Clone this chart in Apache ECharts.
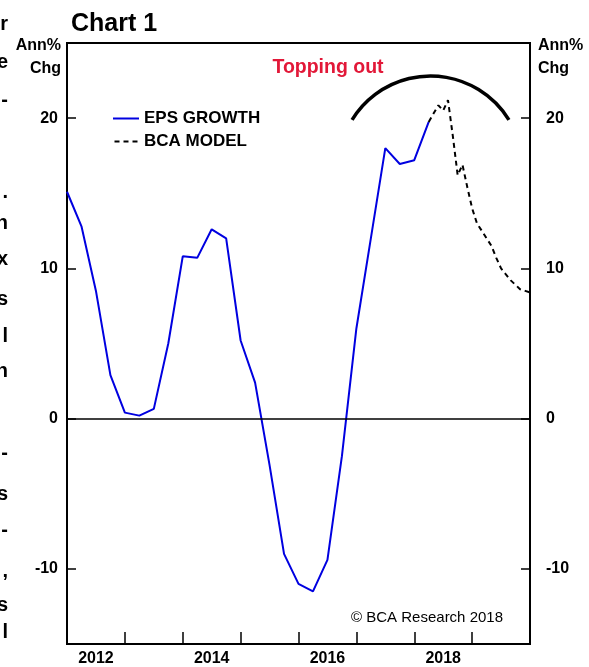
<!DOCTYPE html>
<html>
<head>
<meta charset="utf-8">
<script src="https://cdn.jsdelivr.net/npm/echarts@6/dist/echarts.min.js"></script>
<style>
html,body{margin:0;padding:0;background:#fff;}
#chart{width:589px;height:667px;}
</style>
</head>
<body>
<div id="chart"></div>
<script>
// EPS growth, quarterly (Ann% Chg)
const epsYears = [2012.00, 2012.25, 2012.50, 2012.75, 2013.00, 2013.25, 2013.50, 2013.75,
  2014.00, 2014.25, 2014.50, 2014.75, 2015.00, 2015.25, 2015.50, 2015.75,
  2016.00, 2016.25, 2016.50, 2016.75, 2017.00, 2017.25, 2017.50, 2017.75,
  2018.00, 2018.25];
const epsValues = [15.1, 12.8, 8.5, 2.9, 0.4, 0.2, 0.65, 5.0,
  10.8, 10.7, 12.6, 12.0, 5.2, 2.4, -3.1, -9.0,
  -11.0, -11.5, -9.4, -2.5, 6.0, 12.0, 18.0, 16.95,
  17.2, 19.75];
// BCA model, monthly
const modelYears = [2018.250, 2018.333, 2018.417, 2018.500, 2018.583, 2018.667, 2018.750, 2018.833,
  2018.917, 2019.000, 2019.083, 2019.167, 2019.250, 2019.333, 2019.417, 2019.500,
  2019.583, 2019.667, 2019.750, 2019.833, 2019.917, 2020.000];
const modelValues = [19.75, 20.3, 20.85, 20.5, 21.2, 18.8, 16.2, 16.9,
  15.4, 14.0, 13.0, 12.5, 12.0, 11.5, 10.7, 10.0,
  9.6, 9.2, 8.9, 8.6, 8.5, 8.4];
const xLabelYears = [2012, 2014, 2016, 2018];
const yTickValues = [-10, 0, 10, 20];
const sideFragments = [
  ['r', 25], ['e', 63], ['-', 101], ['.', 193], ['n', 224], ['x', 260], ['s', 300],
  ['l', 337], ['n', 372], ['-', 454], ['s', 495], ['-', 531], [',', 572], ['s', 606], ['l', 633]
];

const FONT = 'Arial, "Liberation Sans", Helvetica, sans-serif';
const chart = echarts.init(document.getElementById('chart'), null, {renderer: 'canvas'});

const yAxisBase = {
  type: 'value', min: -15, max: 25, interval: 5,
  axisLine: {show: true, onZero: false, lineStyle: {color: '#000', width: 2}},
  axisTick: {show: true, inside: true, length: 9, customValues: yTickValues, lineStyle: {color: '#000', width: 1.5}},
  splitLine: {show: false},
  axisLabel: {customValues: yTickValues, color: '#000', fontFamily: FONT, fontWeight: 'bold', fontSize: 16}
};

const graphics = [
  {type: 'text', left: 71, top: 12, style: {text: 'Chart 1', font: 'bold 25px ' + FONT, fill: '#000'}},
  {type: 'text', x: 61, y: 38, style: {text: 'Ann%', font: 'bold 16px ' + FONT, fill: '#000', textAlign: 'right'}},
  {type: 'text', x: 61, y: 61, style: {text: 'Chg', font: 'bold 16px ' + FONT, fill: '#000', textAlign: 'right'}},
  {type: 'text', x: 538, y: 38, style: {text: 'Ann%', font: 'bold 16px ' + FONT, fill: '#000', textAlign: 'left'}},
  {type: 'text', x: 538, y: 61, style: {text: 'Chg', font: 'bold 16px ' + FONT, fill: '#000', textAlign: 'left'}},
  {type: 'text', x: 328, y: 58, style: {text: 'Topping out', font: 'bold 19.5px ' + FONT, fill: '#e21838', textAlign: 'center'}},
  {type: 'text', x: 503, y: 610, style: {text: '\u00A9 BCA Research 2018', font: '15px ' + FONT, fill: '#000', textAlign: 'right'}},
  {type: 'arc', shape: {cx: 430.5, cy: 168, r: 92, startAngle: -148.5 * Math.PI / 180, endAngle: -31.5 * Math.PI / 180, clockwise: true},
   style: {stroke: '#000', lineWidth: 3.5, fill: null}, z: 10}
];
sideFragments.forEach(function (f) {
  graphics.push({type: 'text', x: 8, y: f[1] - 11, style: {text: f[0], font: 'bold 20px ' + FONT, fill: '#000', textAlign: 'right'}});
});

chart.setOption({
  animation: false,
  backgroundColor: '#fff',
  grid: {left: 67, right: 59, top: 43, bottom: 17, show: true, borderColor: '#000', borderWidth: 2, containLabel: false},
  legend: {
    orient: 'vertical', left: 108, top: 105, itemWidth: 26, itemHeight: 2, itemGap: 6,
    textStyle: {color: '#000', fontFamily: FONT, fontWeight: 'bold', fontSize: 17, padding: [0, 0, 0, 0]},
    data: [
      {name: 'EPS GROWTH', icon: 'path://M0,0h26v2h-26z', itemStyle: {color: '#0000e0'}},
      {name: 'BCA MODEL', icon: 'path://M0,0h5v2h-5zM9,0h5v2h-5zM18,0h5v2h-5z', itemStyle: {color: '#000'}}
    ]
  },
  xAxis: {
    type: 'value', min: 2012, max: 2020, interval: 1,
    axisLine: {show: true, onZero: false, lineStyle: {color: '#000', width: 2}},
    axisTick: {show: true, inside: true, length: 12, lineStyle: {color: '#000', width: 1.5}},
    splitLine: {show: false},
    axisLabel: {
      customValues: xLabelYears.map(function (y) { return y + 0.5; }),
      formatter: function (v) { return String(Math.floor(v)); },
      color: '#000', fontFamily: FONT, fontWeight: 'bold', fontSize: 16, margin: 7
    }
  },
  yAxis: [
    Object.assign({}, yAxisBase, {position: 'left', axisLabel: Object.assign({}, yAxisBase.axisLabel, {margin: 9})}),
    Object.assign({}, yAxisBase, {position: 'right', axisLabel: Object.assign({}, yAxisBase.axisLabel, {margin: 16})})
  ],
  graphic: graphics,
  series: [
    {
      name: 'EPS GROWTH', type: 'line', symbol: 'none',
      data: epsYears.map(function (x, i) { return [x, epsValues[i]]; }),
      lineStyle: {color: '#0000e0', width: 2},
      itemStyle: {color: '#0000e0'},
      markLine: {
        silent: true, symbol: 'none', label: {show: false},
        lineStyle: {color: '#000', width: 1.5, type: 'solid'},
        data: [{yAxis: 0}]
      },
      z: 3
    },
    {
      name: 'BCA MODEL', type: 'line', symbol: 'none',
      data: modelYears.map(function (x, i) { return [x, modelValues[i]]; }),
      lineStyle: {color: '#000', width: 2, type: [5, 4]},
      itemStyle: {color: '#000'},
      z: 4
    }
  ]
});
</script>
</body>
</html>
